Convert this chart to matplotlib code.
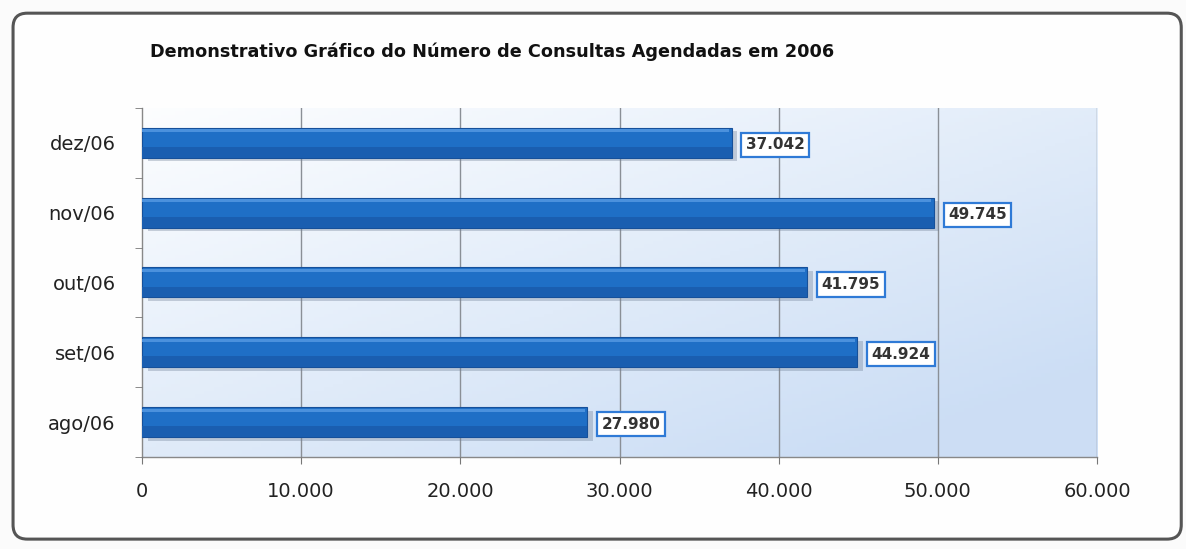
import matplotlib
matplotlib.use("Agg")
import matplotlib.pyplot as plt
import numpy as np
from matplotlib.patches import FancyBboxPatch

categories = ["ago/06", "set/06", "out/06", "nov/06", "dez/06"]
values = [27980, 44924, 41795, 49745, 37042]
value_labels = ["27.980", "44.924", "41.795", "49.745", "37.042"]
xticks = [0, 10000, 20000, 30000, 40000, 50000, 60000]
xtick_labels = ["0", "10.000", "20.000", "30.000", "40.000", "50.000", "60.000"]
title = "Demonstrativo Gráfico do Número de Consultas Agendadas em 2006"

fig = plt.figure(figsize=(11.86, 5.49), dpi=100)
fig.patch.set_facecolor("#fbfbfb")

# rounded frame
frame = FancyBboxPatch((0.011, 0.018), 0.985, 0.958,
                       boxstyle="round,pad=0,rounding_size=0.012",
                       transform=fig.transFigure, facecolor="#fefefe",
                       edgecolor="#555555", linewidth=2.2, mutation_aspect=2.16,
                       zorder=-10)
fig.patches.append(frame)

ax = fig.add_axes([0.1197, 0.1676, 0.8053, 0.6357])
ax.set_zorder(1)
ax.set_xlim(0, 60000)
ax.set_ylim(-0.5, 4.5)

# gradient background
nx, ny = 200, 100
gx = np.linspace(0, 1, nx)
gy = np.linspace(0, 1, ny)
GX, GY = np.meshgrid(gx, gy)
t = np.clip(0.55 * GX + 0.6 * GY, 0, 1)
c0 = np.array([0.99, 0.995, 1.0])
c1 = np.array([0.80, 0.87, 0.96])
img = c0[None, None, :] * (1 - t[..., None]) + c1[None, None, :] * t[..., None]
ax.imshow(img, extent=(0, 60000, -0.5, 4.5), aspect="auto", origin="upper", zorder=0)

for xv in xticks[1:]:
    ax.axvline(xv, color="#8a8f96", linewidth=1.0, zorder=1)

y = np.arange(len(categories))
h = 0.43
# shadow
ax.barh(y - 0.05, values, height=h, left=350, color="#6f7f96", alpha=0.35, zorder=2)
# main bar
ax.barh(y, values, height=h, color="#1f6fc6", edgecolor="#16509a", linewidth=0.8, zorder=3)
# darker lower part
ax.barh(y - h * 0.32, values, height=h * 0.36, color="#1a5eb0", linewidth=0, zorder=3.5)
# highlight
ax.barh(y + h * 0.4, [v - 150 for v in values], height=h * 0.1, color="#4b91dd",
        linewidth=0, zorder=4)

for yi, v, lab in zip(y, values, value_labels):
    ax.text(v + 900, yi - 0.03, lab, ha="left", va="center", fontsize=11,
            fontweight="bold", color="#333333", family="DejaVu Sans", zorder=5,
            bbox=dict(boxstyle="square,pad=0.3", facecolor="white",
                      edgecolor="#2f7ad6", linewidth=1.6))

ax.set_xticks(xticks)
ax.set_xticklabels(xtick_labels, fontsize=14, color="#222222", family="DejaVu Sans")
ax.set_yticks(y)
ax.set_yticklabels(categories, fontsize=14, color="#222222", family="DejaVu Sans")
ax.set_yticks(np.arange(-0.5, 5.0, 1.0), minor=True)
ax.tick_params(axis="y", which="major", length=0, pad=19)
ax.tick_params(axis="y", which="minor", length=5, color="#777777", direction="out")
ax.tick_params(axis="x", which="major", length=5, color="#777777", direction="out", pad=13)

for s in ["top", "right"]:
    ax.spines[s].set_visible(False)
for s in ["left", "bottom"]:
    ax.spines[s].set_color("#888888")
    ax.spines[s].set_linewidth(1.0)
ax.set_axisbelow(False)

fig.text(0.1265, 0.905, title, fontsize=12.7, fontweight="bold", color="#111111",
         family="DejaVu Sans", ha="left", va="center")

fig.savefig("out.png", dpi=100, facecolor=fig.get_facecolor())
